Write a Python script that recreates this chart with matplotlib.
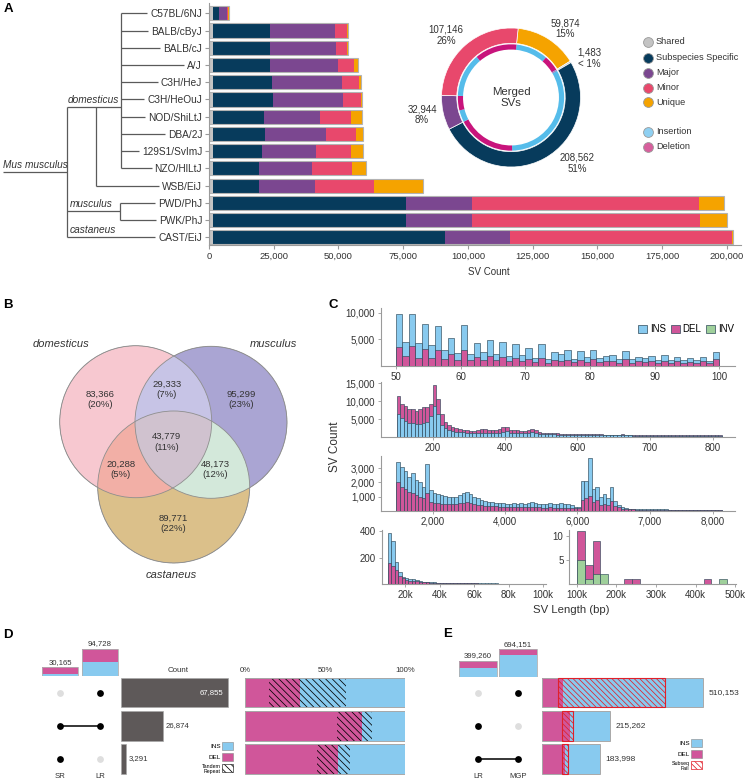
import numpy as np
import matplotlib
matplotlib.use("Agg")
import matplotlib.pyplot as plt
from matplotlib.patches import Circle, Patch
from matplotlib.ticker import FuncFormatter

plt.rcParams['font.family'] = ['Liberation Sans', 'DejaVu Sans']
plt.rcParams['hatch.linewidth'] = 0.55

# ------------------------------------------------------------------ data
strains = ["C57BL/6NJ", "BALB/cByJ", "BALB/cJ", "A/J", "C3H/HeJ", "C3H/HeOuJ",
           "NOD/ShiLtJ", "DBA/2J", "129S1/SvImJ", "NZO/HlLtJ", "WSB/EiJ",
           "PWD/PhJ", "PWK/PhJ", "CAST/EiJ"]
shared_n = [1483] * 14
subspecies_n = [2363, 21980, 22235, 22235, 22880, 23130, 19800, 20320, 18900, 18000, 18000, 74790, 74790, 89670]
major_n = [2950, 25390, 25380, 26150, 27040, 27185, 21670, 23460, 20770, 20125, 21410, 25150, 25150, 25250]
minor_n = [500, 4610, 4230, 6030, 6680, 6900, 11920, 11410, 13720, 15645, 22820, 87680, 88310, 85640]
unique_n = [400, 240, 370, 1500, 520, 400, 4230, 2690, 4490, 5250, 19080, 10000, 10370, 300]

donut_cats = ["Unique", "Shared", "Subspecies Specific", "Major", "Minor"]
donut_vals = [59874, 1483, 208562, 32944, 107146]
donut_ins = [40100, 740, 135500, 14800, 54600]
donut_del = [19774, 743, 73062, 18144, 52546]

venn_sets = ["domesticus", "musculus", "castaneus"]
venn_regions = ["100", "010", "001", "110", "101", "011", "111"]
venn_counts = [83366, 95299, 89771, 29333, 20288, 48173, 43779]

# C: histogram bins (bin starts) and counts
c1_ins = [9810, 4500, 9690, 4300, 7940, 3875, 7440, 3060, 5310, 2500,
          7625, 2190, 4310, 2625, 4940, 2310, 4500, 1810, 4190, 2000,
          3440, 1560, 4060, 1375, 2625, 2190, 2940, 1375, 2810, 1750,
          3000, 1440, 1875, 2060, 1250, 2875, 1310, 1750, 1440, 1940,
          1125, 2125, 1125, 1750, 1125, 1440, 1125, 1750, 940, 2690]
c1_del = [3560, 1810, 3690, 1560, 3250, 1500, 2940, 1375, 2190, 1060,
          2940, 1060, 1690, 1190, 1940, 1060, 1690, 875, 1560, 940,
          1375, 750, 1560, 625, 1060, 875, 1060, 690, 1190, 810,
          1250, 690, 1000, 940, 625, 1250, 625, 940, 750, 1000,
          560, 1000, 560, 875, 500, 750, 500, 875, 500, 1250]
c2_del = [11400, 9100, 8600, 7950, 7700, 7300, 7800, 8250, 8450, 9350,
          14400, 10500, 6400, 4300, 3350, 2700, 2400, 2150, 1950, 1850,
          1750, 1750, 1950, 2300, 2100, 2050, 2000, 2000, 2100, 2700,
          2900, 1950, 1850, 1850, 1700, 1700, 1950, 2200, 1900, 1500,
          1200, 1100, 1050, 1000, 980, 950, 900, 880, 860, 850,
          820, 800, 790, 760, 740, 730, 700, 690, 680, 660,
          640, 650, 720, 620, 600, 590, 580, 570, 560, 550,
          540, 530, 560, 520, 510, 500, 500, 490, 480, 480,
          470, 470, 460, 460, 450, 450, 440, 440, 430, 430]
c2_ins = [6400, 5200, 4500, 4000, 3800, 3500, 3600, 3800, 4250, 5800,
          8600, 6400, 3300, 2400, 1950, 1600, 1500, 1400, 1300, 1200,
          1200, 1150, 1200, 1250, 1150, 1150, 1100, 1100, 1150, 1450,
          1550, 1150, 1100, 1050, 1000, 1000, 1100, 1300, 1100, 900,
          800, 760, 730, 700, 680, 650, 630, 610, 600, 580,
          560, 550, 540, 520, 510, 500, 490, 480, 470, 460,
          450, 450, 500, 430, 420, 410, 400, 390, 380, 380,
          370, 360, 380, 350, 350, 340, 340, 330, 330, 320,
          320, 310, 310, 300, 300, 300, 290, 290, 280, 280]
c3_ins = [3450, 3100, 2800, 2350, 2650, 2150, 2000, 1700, 3280, 1450,
          1280, 1180, 1100, 1050, 1000, 950, 960, 1100, 1220, 1350,
          1180, 1000, 870, 760, 700, 640, 590, 560, 520, 510,
          450, 500, 570, 460, 560, 470, 520, 590, 580, 470,
          450, 450, 520, 500, 450, 520, 450, 500, 400, 280,
          290, 2100, 2100, 3700, 1530, 1700, 940, 1180, 870, 1690,
          700, 400, 240, 170, 140, 120, 110, 110, 100, 100,
          110, 90, 90, 85, 120, 80, 75, 80, 70, 60,
          40, 35, 30, 30, 25, 25, 20, 20, 20, 20]
c3_del = [2050, 1700, 1500, 1350, 1250, 1100, 1000, 880, 1230, 640,
          570, 520, 500, 470, 460, 450, 440, 520, 560, 590,
          540, 470, 420, 380, 350, 330, 310, 300, 280, 270,
          260, 260, 270, 250, 260, 250, 250, 260, 250, 230,
          220, 220, 230, 220, 210, 220, 200, 210, 200, 160,
          170, 760, 880, 1030, 640, 750, 400, 480, 420, 680,
          330, 230, 150, 120, 100, 90, 80, 80, 70, 70,
          70, 60, 60, 60, 70, 50, 50, 50, 45, 40,
          30, 25, 20, 20, 20, 15, 15, 15, 15, 15]
c4_ins = [390, 325, 165, 90, 55, 42, 35, 35, 30, 22,
          18, 15, 13, 12, 10, 10, 9, 8, 8, 7,
          7, 6, 6, 5, 5, 5, 5, 4, 4, 4,
          4, 4, 3, 3, 3, 3, 3, 3, 3, 2,
          2, 2, 2, 2, 2]
c4_del = [160, 135, 105, 60, 42, 30, 25, 25, 22, 18,
          15, 12, 10, 9, 8, 8, 7, 6, 6, 5,
          5, 5, 4, 4, 4, 4, 3, 3, 3, 3,
          3, 3, 2, 2, 2, 2, 2, 2, 2, 2,
          2, 1, 1, 1, 1]
c5_del = [11, 4, 9, 0, 0, 0, 1, 1, 0, 0, 0, 0, 0, 0, 0, 0, 1, 0, 0, 0]
c5_inv = [5, 1, 2, 2, 0, 0, 0, 0, 0, 0, 0, 0, 0, 0, 0, 0, 0, 0, 1, 0]
c2_tick_labels = ["200", "400", "600", "700", "800"]
c3_tick_labels = ["2,000", "4,000", "6,000", "7,000", "8,000"]

# D
d_sets = ["SR", "LR"]
d_set_ins = [6000, 50028]
d_set_del = [24165, 44700]
d_members = [[0, 1], [1, 1], [1, 0]]
d_counts = [67855, 26874, 3291]
d_pct_del = [15.2, 57.3, 44.8]
d_pct_del_tr = [19.2, 16.0, 13.1]
d_pct_ins_tr = [28.5, 6.3, 7.5]
d_pct_ins = [37.1, 20.4, 34.6]

# E
e_sets = ["LR", "MGP"]
e_set_ins = [233000, 550000]
e_set_del = [166260, 144151]
e_members = [[0, 1], [1, 0], [1, 1]]
e_del = [52700, 63150, 63150]
e_del_fail = [13700, 26300, 10500]
e_ins_fail = [323000, 10500, 10500]
e_ins = [120753, 115312, 99848]

# ------------------------------------------------------------------ style
C_NAVY, C_PURPLE, C_RED, C_ORANGE, C_GREY = '#073b5c', '#7b4790', '#e8486c', '#f5a300', '#c4c4c4'
C_INS, C_DEL, C_INV = '#88caef', '#d0569a', '#9fd09b'
RING_INS, RING_DEL = '#55bcea', '#c8147c'
EDGE = '#2f4a5a'
SPINE = '#9a9a9a'
TXT = '#333333'

W, H = 748, 783
fig = plt.figure(figsize=(W / 100, H / 100), dpi=100)


def px_axes(x0, y0, x1, y1):
    return fig.add_axes([x0 / W, 1 - y1 / H, (x1 - x0) / W, (y1 - y0) / H])


def ftext(x, y, s, **kw):
    return fig.text(x / W, 1 - y / H, s, **kw)


comma = FuncFormatter(lambda v, p: f"{int(v):,}")

for lab, (x, y) in zip("ABCDE", [(8, 9), (8, 305), (333, 305), (8, 635), (448, 634)]):
    ftext(x, y, lab, fontsize=9.5, fontweight='bold', ha='center', va='center')

# ------------------------------------------------------------------ A: bars
axA = px_axes(209, 3, 741, 245)
ypos = np.arange(len(strains))
left = np.zeros(len(strains))
for vals, col in zip([shared_n, subspecies_n, major_n, minor_n, unique_n],
                     [C_GREY, C_NAVY, C_PURPLE, C_RED, C_ORANGE]):
    axA.barh(ypos, vals, left=left, height=0.82, color=col, edgecolor='none')
    left = left + np.array(vals)
axA.barh(ypos, left, height=0.82, fill=False, edgecolor='#b3b3b3', linewidth=0.8)
axA.set_xlim(0, 205500)
axA.set_ylim(13.45, -0.6)
axA.set_yticks(ypos)
axA.set_yticklabels(strains, fontsize=7.3, color=TXT)
axA.set_xticks(np.arange(0, 200001, 25000))
axA.xaxis.set_major_formatter(comma)
for s in ['top', 'right']:
    axA.spines[s].set_visible(False)
for s in ['left', 'bottom']:
    axA.spines[s].set_color(SPINE)
    axA.spines[s].set_linewidth(0.8)
axA.tick_params(axis='x', labelsize=6.8, length=3, color=SPINE, labelcolor=TXT, pad=2)
axA.tick_params(axis='y', length=3, color=SPINE, pad=2)
ftext(489, 272, 'SV Count', fontsize=7, ha='center', va='center', color=TXT)

# tree
axT = px_axes(0, 3, 209, 245)
axT.set_xlim(0, 209)
axT.set_ylim(13.45, -0.6)
axT.axis('off')
it = dict(fontsize=7.3, style='italic', color=TXT, va='bottom', ha='left')
axT.text(68, 5.3, 'domesticus', **it)
axT.text(3, 9.08, 'Mus musculus', **it)
axT.text(70, 11.35, 'musculus', **it)
axT.text(70, 12.85, 'castaneus', **it)

# ------------------------------------------------------------------ A: donut
axD = px_axes(441.5, 28, 580.5, 167)
axD.pie(donut_vals, radius=1, startangle=84.1, counterclock=False,
        colors=[C_ORANGE, C_GREY, C_NAVY, C_PURPLE, C_RED],
        wedgeprops=dict(width=0.22, edgecolor='white', linewidth=0.5))
inner_vals = [v for pair in zip(donut_ins, donut_del) for v in pair]
axD.pie(inner_vals, radius=0.765, startangle=84.1, counterclock=False,
        colors=[RING_INS, RING_DEL] * len(donut_vals),
        wedgeprops=dict(width=0.075, edgecolor='none'))
axD.set_xlim(-1, 1)
axD.set_ylim(-1, 1)
axD.text(0, 0, 'Merged\nSVs', ha='center', va='center', fontsize=8.2, color=TXT, linespacing=1.1)
tot = sum(donut_vals)
lab_pos = [(0.777, 0.99), (1.127, 0.56), (0.95, -0.95), (-1.28, -0.25), (-0.935, 0.9)]
for v, (lx, ly) in zip(donut_vals, lab_pos):
    pct = '< 1%' if v / tot < 0.01 else f"{v / tot:.0%}"
    axD.text(lx, ly, f"{v:,}\n{pct}", ha='center', va='center', fontsize=7, color=TXT,
             linespacing=1.15)

axL = px_axes(640, 30, 748, 160)
axL.set_xlim(640, 748)
axL.set_ylim(160, 30)
axL.axis('off')
leg_items = [("Shared", C_GREY, 42), ("Subspecies Specific", C_NAVY, 57.5),
             ("Major", C_PURPLE, 72.5), ("Minor", C_RED, 87.5), ("Unique", C_ORANGE, 102.3),
             ("Insertion", '#8fd0f2', 131.7), ("Deletion", '#d75f9d', 146.7)]
for name, col, yy in leg_items:
    axL.scatter([648], [yy], s=50, color=col, edgecolors='#9a9a9a', linewidths=0.6)
    axL.text(656, yy, name, fontsize=6.6, va='center', ha='left', color=TXT)

# ------------------------------------------------------------------ B: Venn
axV = px_axes(40, 330, 310, 585)
axV.set_xlim(40, 310)
axV.set_ylim(585, 330)
axV.axis('off')
centers = [(135.7, 421.7), (211.0, 422.3), (173.7, 487.0)]
R = 76.0
venn_cols = {'100': '#f7c9d0', '010': '#aaa5d3', '001': '#dcc08a', '110': '#c8c5e6',
             '101': '#f3b0a6', '011': '#d3e9da', '111': '#d0c3cf'}
gx = np.linspace(40, 310, 1080)
gy = np.linspace(330, 585, 1020)
GX, GY = np.meshgrid(gx, gy)
masks = [((GX - cx) ** 2 + (GY - cy) ** 2) <= R ** 2 for cx, cy in centers]
img = np.zeros(GX.shape + (4,))
for key, col in venn_cols.items():
    m = np.ones(GX.shape, bool)
    for k, ch in enumerate(key):
        m &= masks[k] if ch == '1' else ~masks[k]
    img[m] = matplotlib.colors.to_rgba(col)
axV.imshow(img, extent=(40, 310, 585, 330), origin='upper', interpolation='antialiased', aspect='auto')
for cx, cy in centers:
    axV.add_patch(Circle((cx, cy), R, fill=False, edgecolor='#8e8e8e', linewidth=0.6))
vtot = sum(venn_counts)
vpos = {'100': (100, 399.3), '010': (240.7, 399.3), '001': (173.3, 523.3), '110': (166.7, 389.3),
        '101': (120.7, 469.3), '011': (215, 469.3), '111': (166.7, 441.7)}
for key, n in zip(venn_regions, venn_counts):
    x, y = vpos[key]
    axV.text(x, y, f"{n:,}\n({n / vtot:.0%})", ha='center', va='center', fontsize=6.8,
             color=TXT, linespacing=1.25)
for name, (x, y) in zip(venn_sets, [(60.7, 344), (274, 344), (171.7, 575)]):
    axV.text(x, y, name, ha='center', va='center', fontsize=8, style='italic', color=TXT)

# ------------------------------------------------------------------ C: histograms


def overlay_hist(ax, starts, width, series, colors):
    conts = [ax.bar(starts, vals, width=width, align='edge', color=col, edgecolor=EDGE,
                    linewidth=0.45) for vals, col in zip(series, colors)]
    for i in range(len(starts)):
        hs = [c[i].get_height() for c in conts]
        for rank, k in enumerate(np.argsort(hs)[::-1]):
            conts[k][i].set_zorder(2 + rank)


def style_c(ax):
    for s in ['top', 'right']:
        ax.spines[s].set_visible(False)
    for s in ['left', 'bottom']:
        ax.spines[s].set_color(SPINE)
        ax.spines[s].set_linewidth(0.8)
    ax.tick_params(length=2.5, width=0.6, color=SPINE, labelsize=7, pad=1.5, labelcolor=TXT)
    ax.yaxis.set_major_formatter(comma)


ax1 = px_axes(380.7, 308, 735, 366)
overlay_hist(ax1, np.arange(50, 100, 1), 1, [c1_ins, c1_del], [C_INS, C_DEL])
ax1.set_xlim(47.63, 102.43)
ax1.set_ylim(0, 10880)
ax1.set_xticks(np.arange(50, 101, 10))
ax1.set_yticks([5000, 10000])
style_c(ax1)
fig.legend([Patch(facecolor=C_INS, edgecolor=EDGE, lw=0.5), Patch(facecolor=C_DEL, edgecolor=EDGE, lw=0.5),
            Patch(facecolor=C_INV, edgecolor=EDGE, lw=0.5)], ['INS', 'DEL', 'INV'],
           loc='center right', bbox_to_anchor=(734 / W, 1 - 329 / H), ncol=3, frameon=False,
           fontsize=7, handlelength=0.9, handleheight=0.9, handletextpad=0.3,
           columnspacing=0.5, borderpad=0, borderaxespad=0)

ax2 = px_axes(380.7, 381.7, 735, 437)
overlay_hist(ax2, np.arange(100, 1000, 10), 10, [c2_ins, c2_del], [C_INS, C_DEL])
ax2.set_xlim(56.3, 1036)
ax2.set_ylim(0, 15450)
ax2.set_xticks([200, 400, 600, 800, 975])
ax2.set_xticklabels(c2_tick_labels)
ax2.set_yticks([5000, 10000, 15000])
style_c(ax2)

ax3 = px_axes(380.7, 456, 735, 510.7)
overlay_hist(ax3, np.arange(1000, 10000, 100), 100, [c3_ins, c3_del], [C_INS, C_DEL])
ax3.set_xlim(563, 10364)
ax3.set_ylim(0, 3870)
ax3.set_xticks([2000, 4000, 6000, 8000, 9750])
ax3.set_xticklabels(c3_tick_labels)
ax3.set_yticks([1000, 2000, 3000])
style_c(ax3)

ax4 = px_axes(381.7, 530, 546, 584)
overlay_hist(ax4, np.arange(10000, 100000, 2000), 2000, [c4_ins, c4_del], [C_INS, C_DEL])
ax4.set_xlim(6530, 101560)
ax4.set_ylim(0, 410)
ax4.set_xticks(np.arange(20000, 100001, 20000))
ax4.set_xticklabels([f"{int(v / 1000)}k" for v in np.arange(20000, 100001, 20000)])
ax4.set_yticks([200, 400])
style_c(ax4)

ax5 = px_axes(569, 530, 736, 584)
overlay_hist(ax5, np.arange(100000, 500000, 20000), 20000, [c5_del, c5_inv], [C_DEL, C_INV])
ax5.set_xlim(80500, 502000)
ax5.set_ylim(0, 11.3)
ax5.set_xticks(np.arange(100000, 500001, 100000))
ax5.set_xticklabels([f"{int(v / 1000)}k" for v in np.arange(100000, 500001, 100000)])
ax5.set_yticks([5, 10])
style_c(ax5)

ftext(335, 447, 'SV Count', rotation=90, fontsize=8.5, ha='center', va='center', color=TXT)
ftext(571, 610, 'SV Length (bp)', fontsize=8.2, ha='center', va='center', color=TXT)

# ------------------------------------------------------------------ D / E helpers
HATCH_D = '\\' * 5
HATCH_E = '\\' * 6
C_FAIL = '#e0202a'


def set_bars(ax, ins, dele, width, ymax):
    cols = np.arange(len(ins))
    ax.bar(cols, ins, width=width, color=C_INS, edgecolor='none')
    ax.bar(cols, dele, bottom=ins, width=width, color=C_DEL, edgecolor='none')
    tot_ = np.add(ins, dele)
    ax.bar(cols, tot_, width=width, fill=False, edgecolor='#b0b0b0', linewidth=0.6)
    ax.set_xlim(-0.5, len(ins) - 0.5)
    ax.set_ylim(0, ymax)
    ax.axis('off')
    for i, t in enumerate(tot_):
        ax.annotate(f"{t:,}", (i, t), xytext=(0, 1.2), textcoords='offset points',
                    ha='center', va='bottom', fontsize=5.6, color=TXT)


def dot_matrix(ax, members, names):
    ax.set_xlim(-0.5, len(names) - 0.5)
    ax.set_ylim(2.5, -0.5)
    ax.axis('off')
    for r, mem in enumerate(members):
        on = [c for c in range(len(names)) if mem[c]]
        if len(on) > 1:
            ax.plot([min(on), max(on)], [r, r], color='black', lw=1.1, zorder=1)
        for c in range(len(names)):
            ax.scatter([c], [r], s=24, color='black' if mem[c] else '#dedede', zorder=2, linewidths=0)
    for c, name in enumerate(names):
        ax.text(c, 2.54, name, ha='center', va='center', fontsize=5.6, color=TXT)


# ------------------------------------------------------------------ D
axDt = px_axes(40, 640, 120, 676)
set_bars(axDt, d_set_ins, d_set_del, 0.92, 124500)
axDd = px_axes(40, 676, 120, 775.6)
dot_matrix(axDd, d_members, d_sets)

rows = np.arange(3)
axDc = px_axes(120.7, 676, 240, 775.6)
axDc.barh(rows, d_counts, height=0.89, color='#5e5959', edgecolor='#a8a8a8', linewidth=0.5)
axDc.set_xlim(0, 75650)
axDc.set_ylim(2.5, -0.5)
axDc.axis('off')
for r, n in enumerate(d_counts):
    if r == 0:
        axDc.annotate(f"{n:,}", (n, r), xytext=(-3, 0), textcoords='offset points', ha='right',
                      va='center', fontsize=5.6, color='white')
    else:
        axDc.annotate(f"{n:,}", (n, r), xytext=(2, 0), textcoords='offset points', ha='left',
                      va='center', fontsize=5.6, color=TXT)
ftext(177.7, 670, 'Count', fontsize=5.7, ha='center', va='center', color=TXT)

axDp = px_axes(245, 676, 405, 775.6)
lft = np.zeros(3)
for vals, col, hatch in [(d_pct_del, C_DEL, None), (d_pct_del_tr, C_DEL, HATCH_D),
                         (d_pct_ins_tr, C_INS, HATCH_D), (d_pct_ins, C_INS, None)]:
    if hatch:
        axDp.barh(rows, vals, left=lft, height=0.89, color=col, edgecolor='black', linewidth=0,
                  hatch=hatch)
    else:
        axDp.barh(rows, vals, left=lft, height=0.89, color=col, edgecolor='none')
    lft = lft + np.array(vals)
axDp.barh(rows, lft, height=0.89, fill=False, edgecolor='#a8a8a8', linewidth=0.7)
axDp.set_xlim(0, 100)
axDp.set_ylim(2.5, -0.5)
axDp.xaxis.tick_top()
axDp.set_xticks([0, 50, 100])
axDp.set_xticklabels(['0%', '50%', '100%'])
axDp.tick_params(axis='x', length=0, labelsize=5.6, pad=1.5, labelcolor=TXT)
axDp.set_yticks([])
for s in axDp.spines.values():
    s.set_visible(False)

legD = fig.legend([Patch(facecolor=C_INS, edgecolor='#888888', lw=0.4),
                   Patch(facecolor=C_DEL, edgecolor='#888888', lw=0.4),
                   Patch(facecolor='white', edgecolor='black', lw=0.4, hatch=HATCH_D)],
                  ['INS', 'DEL', 'Tandem\nRepeat'], loc='lower right',
                  bbox_to_anchor=(233 / W, 1 - 773.5 / H), frameon=False, fontsize=4.6,
                  markerfirst=False, handlelength=1.65, handleheight=1.55, labelspacing=0.45,
                  handletextpad=0.3, borderpad=0, borderaxespad=0)
legD.get_texts()[2].set_fontsize(3.8)
for t in legD.get_texts():
    t.set_ha('right')
    t.set_linespacing(1.0)

# ------------------------------------------------------------------ E
axEt = px_axes(458, 640, 538, 676.7)
set_bars(axEt, e_set_ins, e_set_del, 0.93, 933000)
axEd = px_axes(458, 676, 538, 775.6)
dot_matrix(axEd, e_members, e_sets)

axEc = px_axes(541.7, 676, 741, 775.6)
lft = np.zeros(3)
for vals, col, hatch in [(e_del, C_DEL, None), (e_del_fail, C_DEL, HATCH_E),
                         (e_ins_fail, C_INS, HATCH_E), (e_ins, C_INS, None)]:
    if hatch:
        axEc.barh(rows, vals, left=lft, height=0.89, color=col, edgecolor=C_FAIL, linewidth=0,
                  hatch=hatch)
    else:
        axEc.barh(rows, vals, left=lft, height=0.89, color=col, edgecolor='none')
    lft = lft + np.array(vals)
axEc.barh(rows, lft, height=0.89, fill=False, edgecolor='#a8a8a8', linewidth=0.7)
fail_w = np.add(e_del_fail, e_ins_fail)
axEc.barh(rows, fail_w, left=e_del, height=0.89, fill=False, edgecolor=C_FAIL, linewidth=0.8)
axEc.set_xlim(0, 629200)
axEc.set_ylim(2.5, -0.5)
axEc.axis('off')
for r, n in enumerate(lft):
    axEc.annotate(f"{int(n):,}", (n, r), xytext=(4, 0), textcoords='offset points', ha='left',
                  va='center', fontsize=6, color=TXT)

legE = fig.legend([Patch(facecolor=C_INS, edgecolor='#888888', lw=0.4),
                   Patch(facecolor=C_DEL, edgecolor='#888888', lw=0.4),
                   Patch(facecolor='white', edgecolor=C_FAIL, lw=0.5, hatch=HATCH_E)],
                  ['INS', 'DEL', 'Subseq\nFail'], loc='lower right',
                  bbox_to_anchor=(702 / W, 1 - 770.5 / H), frameon=False, fontsize=4.6,
                  markerfirst=False, handlelength=1.65, handleheight=1.55, labelspacing=0.45,
                  handletextpad=0.3, borderpad=0, borderaxespad=0)
legE.get_texts()[2].set_fontsize(3.8)
for t in legE.get_texts():
    t.set_ha('right')
    t.set_linespacing(1.0)

# ------------------------------------------------------------------ tree lines (need label extents)
fig.canvas.draw()
renderer = fig.canvas.get_renderer()
inv = axT.transData.inverted()
label_left = []
for lbl in axA.get_yticklabels():
    bb = lbl.get_window_extent(renderer)
    label_left.append(inv.transform((bb.x0, bb.y0))[0] - 3)

TREE = dict(color='#5a5a5a', lw=0.9, solid_capstyle='butt')
dom_y, root_y, mus_y = 5.45, 9.23, 11.5
x_root, x_stem, x_dom, x_wsb, x_mus = 3, 67, 121, 96.3, 120
axT.plot([x_root, x_stem], [root_y, root_y], **TREE)
axT.plot([x_stem, x_stem], [dom_y, 13], **TREE)
axT.plot([x_stem, x_dom], [dom_y, dom_y], **TREE)
axT.plot([x_dom, x_dom], [0, 9], **TREE)
for i in range(10):
    axT.plot([x_dom, label_left[i]], [i, i], **TREE)
axT.plot([x_wsb, x_wsb], [dom_y, 10], **TREE)
axT.plot([x_wsb, label_left[10]], [10, 10], **TREE)
axT.plot([x_stem, x_mus], [mus_y, mus_y], **TREE)
axT.plot([x_mus, x_mus], [11, 12], **TREE)
for i in (11, 12):
    axT.plot([x_mus, label_left[i]], [i, i], **TREE)
axT.plot([x_stem, label_left[13]], [13, 13], **TREE)

fig.savefig('out.png', dpi=100)
